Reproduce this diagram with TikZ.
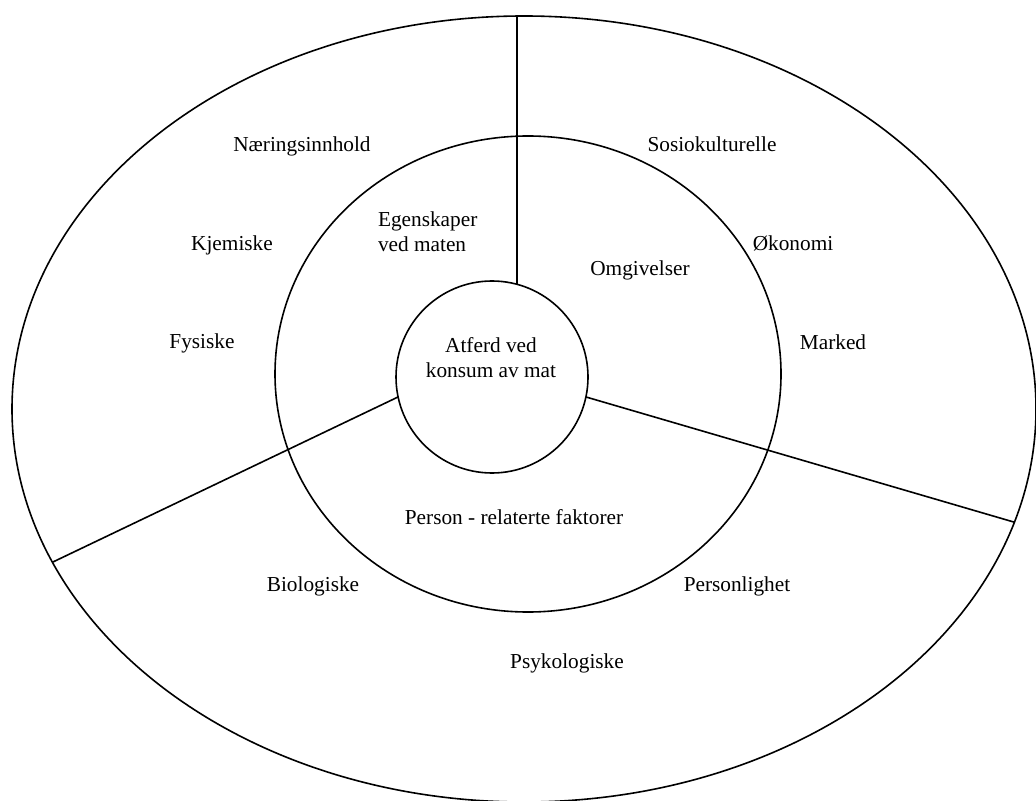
\documentclass[tikz,border=0pt]{standalone}
\usepackage{fontspec}
\setmainfont{Liberation Serif}
\usetikzlibrary{shapes.geometric}

\begin{document}
\begin{tikzpicture}[x=0.5pt,y=-0.5pt]
            \tikzstyle{every node}+=[inner sep=0pt, outer sep=0pt, font=\fontsize{10.65}{12.5}\selectfont]
            \tikzstyle{ring}=[draw=black, line width=0.8pt, ellipse]
            \tikzstyle{core}=[draw=black, line width=0.8pt, circle]
            \tikzstyle{sector}=[black, line width=0.8pt]
            \useasboundingbox (0,0) rectangle (1036,801);
            \node [ring, minimum width=512pt, minimum height=393pt] (outer) at (524,409) {};
            \node [ring, minimum width=253pt, minimum height=238pt] (middle) at (528,374) {};
            \node [core, minimum size=96pt] (inner) at (492,377) {};
            \draw [sector] (inner.75.5) -- (inner.75.5 |- outer.north);
            \draw [sector] (inner.192.3) -- (outer.198.8);
            \draw [sector] (inner.348.1) -- (outer.347.5);
            \node [align=center] (atferd) at (491,358) {Atferd ved\\konsum av mat};
            \node [align=left, anchor=west] (egenskaper) at (378,232) {Egenskaper\\ved maten};
            \node [anchor=base] (omgivelser) at (640,276) {Omgivelser};
            \node [anchor=base] (person) at (514,524) {Person - relaterte faktorer};
            \node [anchor=base] (naering) at (302,152) {Næringsinnhold};
            \node [anchor=base] (kjemiske) at (232,251) {Kjemiske};
            \node [anchor=base] (fysiske) at (202,349) {Fysiske};
            \node [anchor=base] (sosio) at (712,152) {Sosiokulturelle};
            \node [anchor=base] (okonomi) at (793,251) {Økonomi};
            \node [anchor=base] (marked) at (833,350) {Marked};
            \node [anchor=base] (biologiske) at (313,591) {Biologiske};
            \node [anchor=base] (personlighet) at (737,591) {Personlighet};
            \node [anchor=base] (psyk) at (567,668) {Psykologiske};
\end{tikzpicture}
\end{document}
